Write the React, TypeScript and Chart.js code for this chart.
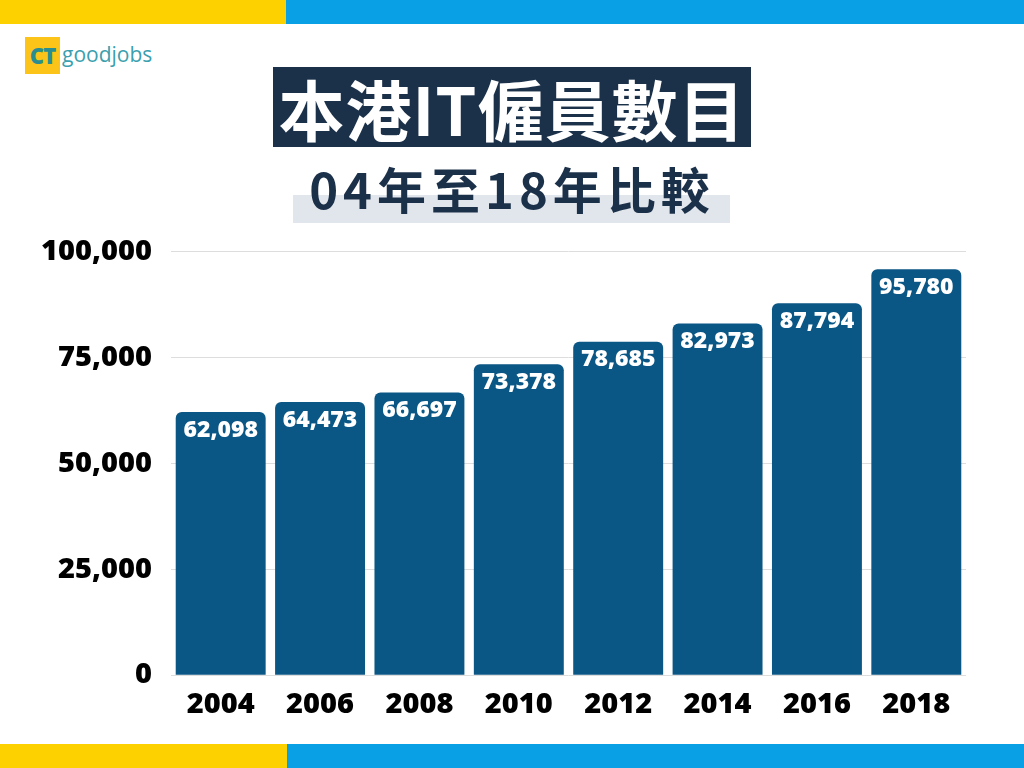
import { useEffect, useRef } from 'react';
import { Chart, registerables, ChartConfiguration, Plugin } from 'chart.js';

Chart.register(...registerables);

const years = ['2004', '2006', '2008', '2010', '2012', '2014', '2016', '2018'];
const employees = [62098, 64473, 66697, 73378, 78685, 82973, 87794, 95780];
const yTicks = [0, 25000, 50000, 75000, 100000];

const NAVY = '#1b3049';
const BAR = '#0a5684';
const TICK_FONT = '"Open Sans", "DejaVu Sans", sans-serif';

const fmt = (v: number) => v.toLocaleString('en-US');

// white value labels inside the top of each bar
const barLabels: Plugin<'bar'> = {
    id: 'barLabels',
    afterDatasetsDraw(chart) {
        const ctx = chart.ctx;
        const meta = chart.getDatasetMeta(0);
        ctx.save();
        ctx.fillStyle = '#ffffff';
        ctx.font = `800 23px ${TICK_FONT}`;
        ctx.textAlign = 'center';
        ctx.textBaseline = 'middle';
        meta.data.forEach((el, i) => {
            const { x, y } = el.getProps(['x', 'y'], true) as { x: number; y: number };
            ctx.fillText(fmt(employees[i]), x, y + 18);
        });
        ctx.restore();
    },
};

const BarChart = () => {
    const chartRef = useRef<Chart | null>(null);
    const canvasRef = useRef<HTMLCanvasElement | null>(null);

    useEffect(() => {
        if (!canvasRef.current) return;
        if (chartRef.current) chartRef.current.destroy();
        const ctx = canvasRef.current.getContext('2d');
        if (!ctx) return;

        const config: ChartConfiguration<'bar', number[], string> = {
            type: 'bar',
            data: {
                labels: years,
                datasets: [
                    {
                        data: employees,
                        backgroundColor: BAR,
                        borderRadius: 6,
                        borderSkipped: 'start',
                        categoryPercentage: 1,
                        barPercentage: 0.905,
                    },
                ],
            },
            options: {
                animation: false,
                responsive: true,
                maintainAspectRatio: false,
                layout: { padding: { top: 3, right: 58, bottom: 12, left: 0 } },
                scales: {
                    x: {
                        grid: { display: false },
                        border: { display: false },
                        ticks: {
                            color: '#000',
                            padding: 4,
                            font: { family: TICK_FONT, size: 29, weight: 800 },
                        },
                    },
                    y: {
                        min: 0,
                        max: 100000,
                        afterFit: (scale) => {
                            scale.width = 171;
                        },
                        afterBuildTicks: (scale) => {
                            scale.ticks = yTicks.map((v) => ({ value: v }));
                        },
                        grid: { color: '#dddddd', lineWidth: 1, drawTicks: false },
                        border: { display: false },
                        ticks: {
                            color: '#000',
                            padding: 19,
                            font: { family: TICK_FONT, size: 29, weight: 800 },
                            callback: (v) => fmt(Number(v)),
                        },
                    },
                },
                plugins: {
                    legend: { display: false },
                    tooltip: { enabled: false },
                },
            },
            plugins: [barLabels],
        };

        chartRef.current = new Chart(ctx, config);
        return () => {
            if (chartRef.current) {
                chartRef.current.destroy();
                chartRef.current = null;
            }
        };
    }, []);

    return (
        <div style={{ position: 'absolute', left: 0, top: 215, width: 1024, height: 523 }}>
            <canvas ref={canvasRef}></canvas>
        </div>
    );
};

const App = () => {
    const cjk = '"Noto Sans CJK TC", "Noto Sans CJK SC", sans-serif';
    return (
        <div
            style={{
                position: 'fixed',
                left: 0,
                top: 0,
                width: 1024,
                height: 768,
                background: '#ffffff',
                overflow: 'hidden',
            }}
        >
            {/* top and bottom colour strips */}
            <div style={{ position: 'absolute', left: 0, top: 0, width: 286, height: 24, background: '#fdd000' }} />
            <div style={{ position: 'absolute', left: 286, top: 0, width: 738, height: 24, background: '#0aa0e6' }} />
            <div style={{ position: 'absolute', left: 0, top: 744, width: 287, height: 24, background: '#fdd000' }} />
            <div style={{ position: 'absolute', left: 287, top: 744, width: 737, height: 24, background: '#0aa0e6' }} />

            {/* logo */}
            <div
                style={{
                    position: 'absolute',
                    left: 25,
                    top: 37,
                    width: 35,
                    height: 37,
                    background: '#fcc419',
                    color: '#2a8e8f',
                    font: `800 22px ${TICK_FONT}`,
                    lineHeight: '37px',
                    textAlign: 'center',
                    letterSpacing: -1,
                }}
            >
                CT
            </div>
            <div
                style={{
                    position: 'absolute',
                    left: 62,
                    top: 41,
                    color: '#3a9fae',
                    font: `400 21px ${TICK_FONT}`,
                    lineHeight: '26px',
                }}
            >
                goodjobs
            </div>

            {/* title */}
            <div
                style={{
                    position: 'absolute',
                    left: 273,
                    top: 67,
                    width: 478,
                    height: 80,
                    background: NAVY,
                    color: '#ffffff',
                    font: `700 66px ${cjk}`,
                    lineHeight: '80px',
                    textAlign: 'center',
                    letterSpacing: 1,
                }}
            >
                本港IT僱員數目
            </div>
            <div style={{ position: 'absolute', left: 293, top: 195, width: 437, height: 28, background: '#e1e6ec' }} />
            <div
                style={{
                    position: 'absolute',
                    left: 263,
                    top: 158,
                    width: 498,
                    color: NAVY,
                    font: `700 49px ${cjk}`,
                    lineHeight: '60px',
                    textAlign: 'center',
                    letterSpacing: 5,
                }}
            >
                04年至18年比較
            </div>

            <BarChart />
        </div>
    );
};

export default App;
